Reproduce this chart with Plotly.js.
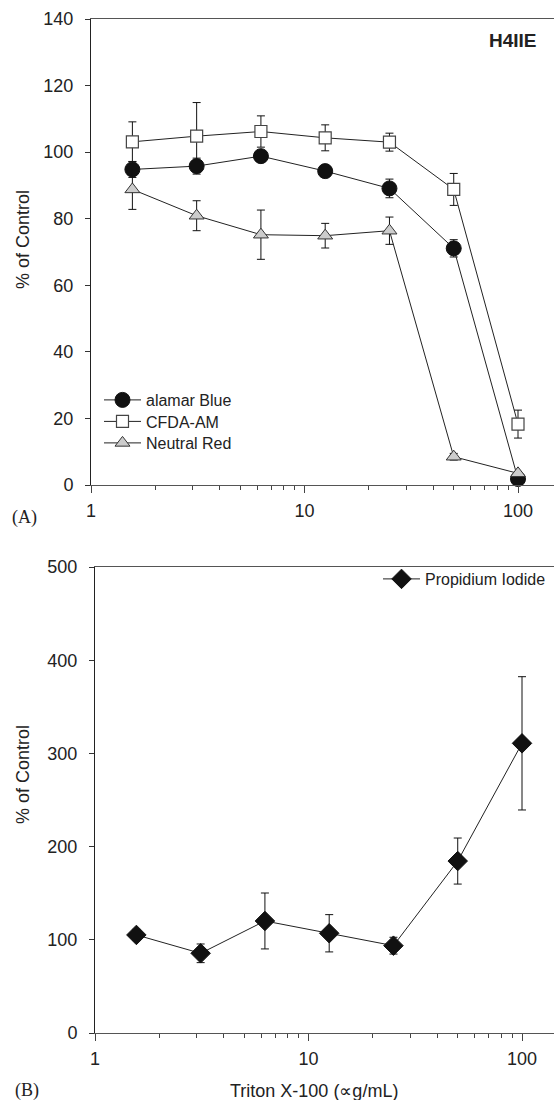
<!DOCTYPE html>
<html>
<head>
<meta charset="utf-8">
<script src="https://cdn.plot.ly/plotly-3.0.1.min.js"></script>
<style>html,body{margin:0;padding:0;background:#fff;}#chart{width:554px;height:1100px;}</style>
</head>
<body>
<div id="chart"></div>
<script>
// ---- data ----
const conc = [1.5625, 3.125, 6.25, 12.5, 25, 50, 100];
const alamarBlue    = [94.8, 95.8, 98.8, 94.3, 89.1, 71.1, 1.8];
const alamarBlueErr = [2.4, 2.4, 1.5, 1.0, 2.8, 2.6, 0.5];
const cfdaAM        = [103.1, 104.8, 106.2, 104.3, 103.0, 88.8, 18.3];
const cfdaAMErr     = [6.0, 10.1, 4.7, 3.9, 2.7, 4.8, 4.2];
const neutralRed    = [88.8, 80.9, 75.2, 74.9, 76.4, 8.5, 3.5];
const neutralRedErr = [6.0, 4.5, 7.4, 3.7, 4.1, 1.0, 0.5];
const propidium     = [105.2, 85.5, 120.2, 107.0, 93.7, 184.5, 310.8];
const propidiumErr  = [6.0, 10.0, 30.0, 20.0, 9.0, 24.7, 71.5];
const xTickVals = [1, 10, 100];
const xTickText = ['1', '10', '100'];
const xMinorVals = [2,3,4,5,6,7,8,9,20,30,40,50,60,70,80,90];

const FONT = 'Liberation Sans, Arial, sans-serif';
const W = 554, H = 1100;
const lineCol = '#222';

function err(arr){return {type:'data', array:arr, visible:true, color:'#111', thickness:1, width:4};}

const traces = [
  {x: conc, y: cfdaAM, name: 'CFDA-AM', mode: 'lines+markers',
   line: {color: lineCol, width: 1}, error_y: err(cfdaAMErr), cliponaxis: false,
   marker: {symbol: 'square', size: 12, color: '#ffffff', line: {color: '#444', width: 1.2}},
   xaxis: 'x', yaxis: 'y', legend: 'legend3'},
  {x: conc, y: alamarBlue, name: 'alamar Blue', mode: 'lines+markers',
   line: {color: lineCol, width: 1}, error_y: err(alamarBlueErr), cliponaxis: false,
   marker: {symbol: 'circle', size: 15, color: '#111', line: {color: '#111', width: 1}},
   xaxis: 'x', yaxis: 'y', legend: 'legend'},
  {x: conc, y: neutralRed, name: 'Neutral Red', mode: 'lines+markers',
   line: {color: lineCol, width: 1}, error_y: err(neutralRedErr), cliponaxis: false,
   marker: {symbol: 'triangle-up', size: 13, color: '#cccccc', line: {color: '#333', width: 1}},
   xaxis: 'x', yaxis: 'y', legend: 'legend4'},
  {x: conc, y: propidium, name: 'Propidium Iodide', mode: 'lines+markers',
   line: {color: lineCol, width: 1}, error_y: err(propidiumErr), cliponaxis: false,
   marker: {symbol: 'diamond', size: 15, color: '#111', line: {color: '#111', width: 1}},
   xaxis: 'x2', yaxis: 'y2', legend: 'legend2'}
];

const tickFont = {family: FONT, size: 18, color: '#222'};
function xaxisDef(domainLeft, rangeMax, anchor){
  return {
    type: 'log', domain: [domainLeft, 1], range: [0, rangeMax], anchor: anchor,
    tickmode: 'array', tickvals: xTickVals, ticktext: xTickText,
    ticks: 'outside', ticklen: 7, tickwidth: 1, tickcolor: '#444',
    minor: {tickmode: 'array', tickvals: xMinorVals, ticks: 'outside', ticklen: 4, tickwidth: 1, tickcolor: '#444', showgrid: false},
    showline: true, linecolor: '#555', linewidth: 1, mirror: true,
    showgrid: false, zeroline: false, tickfont: tickFont, ticklabelstandoff: 2
  };
}
function yaxisDef(domain, range, dtick, anchor){
  return {
    domain: domain, range: range, dtick: dtick, tick0: 0, anchor: anchor,
    ticks: 'outside', ticklen: 5, tickwidth: 1, tickcolor: '#333',
    showline: true, linecolor: '#222', linewidth: 1, mirror: false,
    showgrid: false, zeroline: false, tickfont: tickFont, ticklabelstandoff: 8
  };
}
function legendDef(xPx, yPx){
  return {x: xPx/W, xanchor: 'left', y: 1-yPx/H, yanchor: 'middle', bgcolor: 'rgba(0,0,0,0)',
          font: {family: FONT, size: 16, color: '#222'}, itemwidth: 37};
}

const layout = {
  width: W, height: H, margin: {l: 0, r: 0, t: 0, b: 0},
  paper_bgcolor: '#fff', plot_bgcolor: 'rgba(0,0,0,0)',
  font: {family: FONT, color: '#222'},
  xaxis: xaxisDef(91/W, (554-91)/213.5, 'y'),
  yaxis: yaxisDef([1-485/H, 1-19/H], [0, 140], 20, 'x'),
  xaxis2: xaxisDef(95/W, (554-95)/213.5, 'y2'),
  yaxis2: yaxisDef([1-1033/H, 1-567/H], [0, 500], 100, 'x2'),
  legend: legendDef(99, 400),
  legend3: legendDef(99, 421.5),
  legend4: legendDef(99, 443),
  legend2: legendDef(378, 579),
  showlegend: true,
  annotations: [
    {text: '<b>H4IIE</b>', xref: 'paper', yref: 'paper', x: 539/W, y: 1-40/H, xanchor: 'right', yanchor: 'middle',
     showarrow: false, font: {family: FONT, size: 19, color: '#222'}},
    {text: '(A)', xref: 'paper', yref: 'paper', x: 10/W, y: 1-517/H, xanchor: 'left', yanchor: 'middle',
     showarrow: false, font: {family: 'Liberation Serif, Times New Roman, serif', size: 18, color: '#222'}},
    {text: '(B)', xref: 'paper', yref: 'paper', x: 13/W, y: 1-1090/H, xanchor: 'left', yanchor: 'middle',
     showarrow: false, font: {family: 'Liberation Serif, Times New Roman, serif', size: 18, color: '#222'}},
    {text: 'Triton X-100 (∝g/mL)', xref: 'paper', yref: 'paper', x: 314/W, y: 1-1091/H, xanchor: 'center', yanchor: 'middle',
     showarrow: false, font: {family: FONT, size: 18, color: '#222'}},
    {text: '% of Control', xref: 'paper', yref: 'paper', x: 23/W, y: 1-240/H, xanchor: 'center', yanchor: 'middle',
     textangle: -90, showarrow: false, font: {family: FONT, size: 18, color: '#222'}},
    {text: '% of Control', xref: 'paper', yref: 'paper', x: 23/W, y: 1-775/H, xanchor: 'center', yanchor: 'middle',
     textangle: -90, showarrow: false, font: {family: FONT, size: 18, color: '#222'}}
  ]
};

Plotly.newPlot('chart', traces, layout, {staticPlot: true, displayModeBar: false});
</script>
</body>
</html>
